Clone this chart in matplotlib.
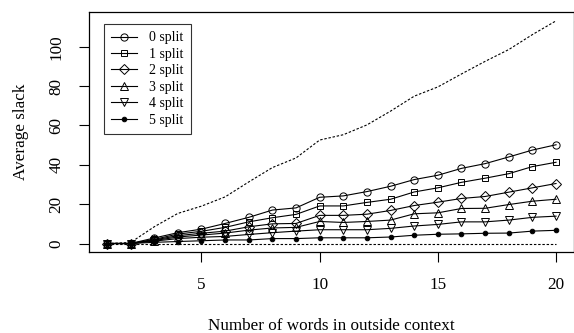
import matplotlib
matplotlib.use('Agg')
import matplotlib.pyplot as plt

plt.rcParams['font.family'] = ['Liberation Serif', 'DejaVu Serif']

# x positions: number of words in outside context
words = list(range(1, 21))

# average slack per split count
split0 = [0, 0, 2.8, 5.5, 7.3, 10.2, 13.3, 17.0, 18.1, 23.5, 24.2, 26.4, 29.1, 32.5, 34.7, 38.2, 40.6, 44.0, 47.5, 50.2]
split1 = [0, 0, 2.1, 4.8, 6.2, 8.2, 11.0, 13.1, 14.8, 19.1, 19.1, 20.9, 22.5, 26.2, 28.3, 31.1, 33.2, 35.5, 39.1, 41.3]
split2 = [0, 0, 1.8, 4.0, 5.2, 6.3, 8.5, 10.0, 10.2, 14.3, 14.3, 14.9, 16.8, 19.3, 21.0, 22.9, 23.9, 26.1, 28.3, 30.5]
split3 = [0, 0, 1.5, 3.3, 4.3, 5.3, 6.8, 7.9, 8.2, 11.2, 10.7, 11.2, 11.9, 15.1, 15.6, 17.8, 17.9, 19.8, 21.5, 22.5]
split4 = [0, 0, 1.2, 2.5, 3.2, 3.6, 4.6, 5.5, 6.3, 7.0, 7.0, 7.0, 7.7, 8.9, 9.7, 11.0, 11.0, 11.9, 13.3, 13.9]
split5 = [0, 0, 0.6, 1.0, 1.4, 1.8, 1.8, 2.5, 2.5, 2.9, 2.9, 2.9, 3.3, 4.2, 4.7, 4.9, 5.2, 5.3, 6.3, 6.7]

# dotted upper bound and zero baseline
upper = [0, 0.5, 8.5, 15.3, 19.0, 23.7, 31.3, 38.6, 43.5, 52.6, 55.3, 60.3, 67.3, 74.9, 79.6, 86.2, 92.6, 98.6, 106.2, 113.2]
zero = [0] * 20

series = [split0, split1, split2, split3, split4, split5]
labels = ['0 split', '1 split', '2 split', '3 split', '4 split', '5 split']
markers = ['o', 's', 'D', '^', 'v', 'o']
msizes = [5.2, 4.6, 4.6, 5.6, 5.6, 3.3]
fills = ['none', 'none', 'none', 'none', 'none', 'black']

fig = plt.figure(figsize=(5.74, 3.33), dpi=100)
ax = fig.add_axes([0.155, 0.242, 0.845, 0.722])

ax.plot(words, upper, color='black', lw=0.8, ls=(0, (2.2, 1.6)))
ax.plot(words, zero, color='black', lw=0.8, ls=(0, (2.2, 1.6)))

for vals, lab, m, ms, fc in zip(series, labels, markers, msizes, fills):
    ax.plot(words, vals, color='black', lw=0.8, marker=m, markersize=ms,
            markerfacecolor=fc, markeredgecolor='black', markeredgewidth=0.7,
            label=lab)

ax.set_xlim(0.24, 20.76)
ax.set_ylim(-4.53, 117.7)
ax.set_xticks([5, 10, 15, 20])
ax.set_yticks([0, 20, 40, 60, 80, 100])
ax.tick_params(direction='out', length=7.5, width=0.8, labelsize=12.3, pad=10)
for lab in ax.get_yticklabels():
    lab.set_rotation(90)
    lab.set_va('center')
for sp in ax.spines.values():
    sp.set_linewidth(0.9)

ax.set_xlabel('Number of words in outside context', fontsize=12.3, labelpad=18)
ax.set_ylabel('Average slack', fontsize=12.3, labelpad=14)

leg = ax.legend(loc='center', bbox_to_anchor=(0.1206, 0.721), fontsize=10,
                frameon=True, fancybox=False, edgecolor='black',
                handlelength=1.87, handletextpad=0.84, labelspacing=0.25,
                borderpad=0.55, borderaxespad=0)
leg.get_frame().set_linewidth(0.8)

fig.savefig('out.png', dpi=100)
